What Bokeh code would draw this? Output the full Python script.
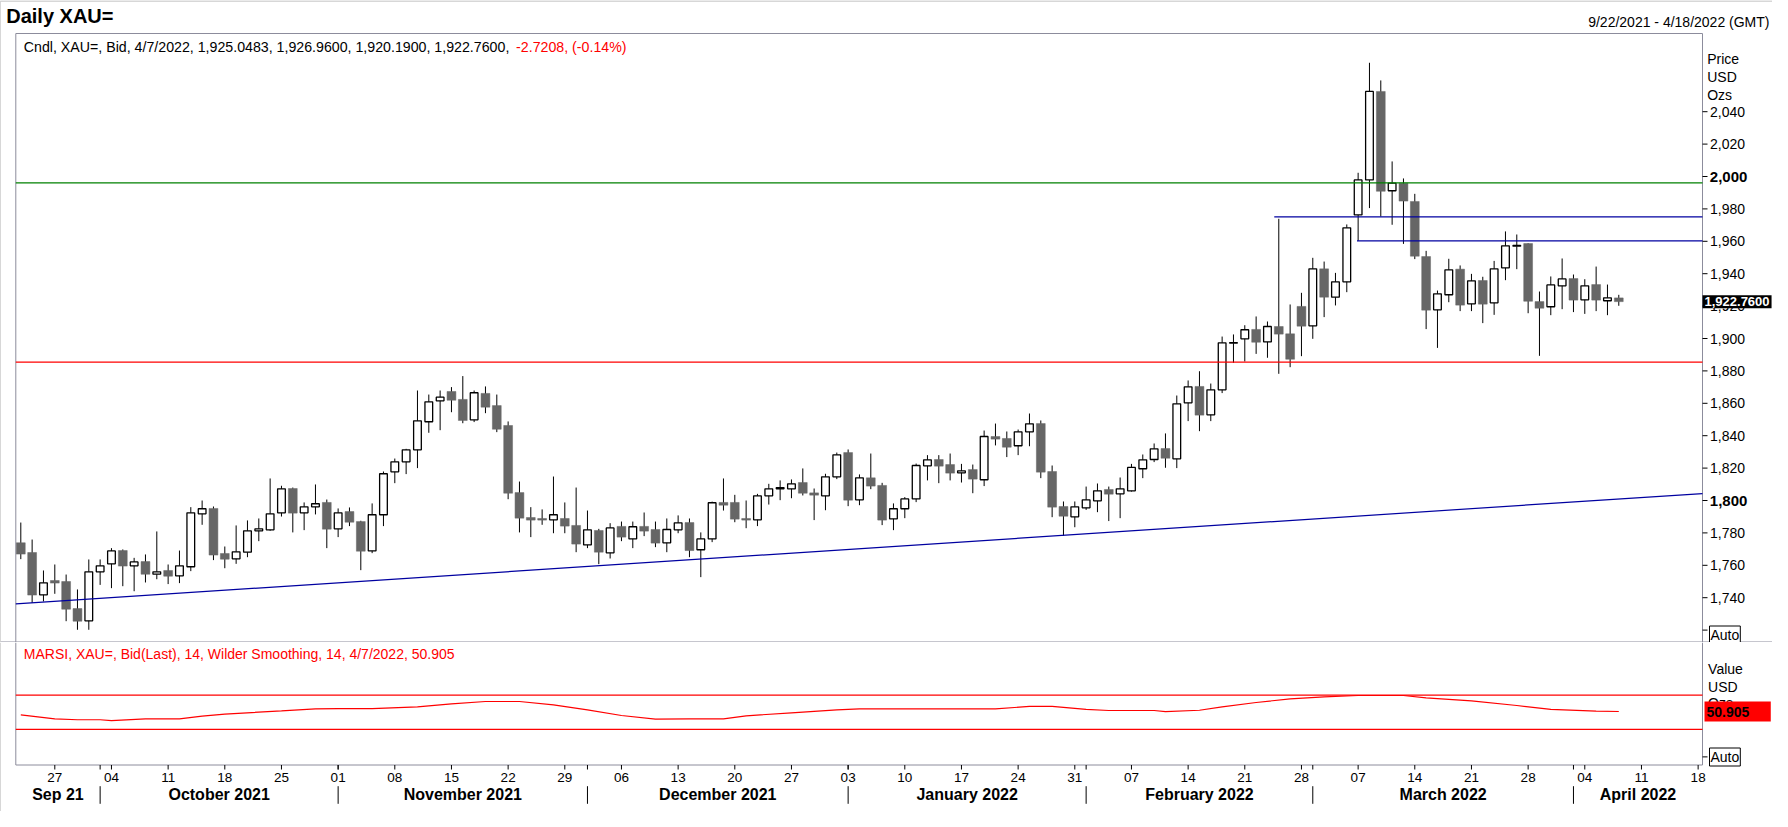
import pandas as pd
from bokeh.plotting import figure
from bokeh.layouts import column
from bokeh.models import Range1d, Label, ColumnDataSource
from bokeh.embed import file_html
from bokeh.resources import INLINE

# ---------------- data ----------------
dates = pd.bdate_range("2021-09-22", "2022-04-07")          # 142 trading days
axis_dates = pd.bdate_range("2021-09-22", "2022-04-18")

opens = [1773.9, 1767.9, 1741.8, 1750.6, 1750.0, 1733.3, 1725.7, 1756.0, 1760.9, 1769.1,
         1759.7, 1762.3, 1754.5, 1756.8, 1753.5, 1759.1, 1791.8, 1795.1, 1767.3, 1764.0,
         1768.1, 1781.3, 1781.9, 1792.4, 1807.4, 1792.4, 1796.1, 1798.8, 1782.5, 1793.2,
         1787.0, 1768.9, 1791.2, 1817.7, 1823.9, 1831.3, 1848.6, 1861.5, 1867.3, 1862.4,
         1849.8, 1866.1, 1858.6, 1846.3, 1804.9, 1789.5, 1788.9, 1788.1, 1788.9, 1784.6,
         1772.6, 1781.5, 1767.7, 1784.0, 1776.3, 1784.0, 1782.1, 1773.9, 1781.9, 1786.4,
         1769.6, 1776.3, 1798.8, 1798.8, 1788.9, 1788.1, 1802.9, 1807.2, 1807.2, 1811.1,
         1804.7, 1802.9, 1814.6, 1829.6, 1800.4, 1814.0, 1809.3, 1788.7, 1794.9, 1801.0,
         1821.4, 1825.3, 1822.2, 1817.1, 1819.1, 1812.8, 1839.5, 1838.3, 1833.8, 1842.4,
         1847.5, 1817.9, 1796.3, 1789.9, 1795.5, 1799.8, 1806.8, 1804.1, 1806.0, 1819.6,
         1825.3, 1832.1, 1825.7, 1860.3, 1870.4, 1852.9, 1868.3, 1897.1, 1899.8, 1905.6,
         1897.9, 1907.4, 1902.9, 1919.8, 1907.8, 1943.0, 1925.5, 1935.0, 1976.3, 1997.9,
         2052.5, 1991.2, 1995.9, 1984.6, 1950.6, 1917.7, 1927.0, 1942.8, 1921.4, 1935.8,
         1922.0, 1943.6, 1957.0, 1958.6, 1922.8, 1919.6, 1932.5, 1937.0, 1923.9, 1933.3,
         1923.3, 1925.05]
highs = [1786.4, 1775.9, 1756.8, 1760.5, 1754.3, 1745.1, 1763.6, 1763.6, 1770.6, 1769.8,
         1764.6, 1766.7, 1780.9, 1760.5, 1769.1, 1795.9, 1800.0, 1796.3, 1771.6, 1784.6,
         1787.7, 1788.9, 1813.6, 1809.1, 1808.0, 1798.8, 1809.9, 1800.6, 1795.1, 1795.7,
         1787.5, 1798.2, 1817.9, 1825.9, 1831.9, 1867.9, 1865.4, 1867.9, 1870.0, 1876.8,
         1867.9, 1870.4, 1865.4, 1848.8, 1811.7, 1795.9, 1794.5, 1814.8, 1798.8, 1808.0,
         1793.8, 1782.5, 1786.0, 1787.0, 1787.0, 1792.6, 1787.0, 1788.9, 1790.8, 1788.9,
         1780.3, 1799.3, 1813.6, 1803.5, 1800.0, 1804.1, 1810.3, 1812.4, 1813.0, 1819.8,
         1807.4, 1816.5, 1829.6, 1831.5, 1816.1, 1829.0, 1810.9, 1798.2, 1802.1, 1822.8,
         1828.0, 1828.0, 1829.0, 1822.6, 1822.2, 1843.2, 1847.5, 1842.6, 1843.8, 1853.7,
         1849.4, 1821.6, 1799.4, 1799.4, 1808.6, 1810.5, 1808.6, 1814.2, 1822.6, 1828.4,
         1835.2, 1841.4, 1864.8, 1874.1, 1879.8, 1872.2, 1901.2, 1902.5, 1908.2, 1913.6,
         1910.5, 1973.9, 1921.0, 1928.2, 1949.8, 1947.5, 1940.5, 1970.4, 2002.3, 2070.2,
         2059.3, 2009.3, 1998.8, 1989.3, 1954.1, 1929.6, 1949.2, 1945.1, 1939.9, 1938.1,
         1947.9, 1966.1, 1964.2, 1958.8, 1929.0, 1938.3, 1949.4, 1939.5, 1936.6, 1944.4,
         1933.3, 1926.96]
lows = [1763.8, 1736.8, 1737.7, 1742.4, 1725.5, 1720.2, 1720.2, 1747.9, 1745.9, 1747.1,
        1744.0, 1749.4, 1751.4, 1748.4, 1749.0, 1756.4, 1785.0, 1763.2, 1758.2, 1760.9,
        1765.0, 1774.9, 1781.3, 1790.1, 1780.3, 1781.7, 1791.4, 1770.6, 1777.4, 1784.2,
        1757.0, 1767.5, 1784.2, 1810.7, 1816.3, 1820.0, 1841.8, 1843.4, 1854.5, 1847.7,
        1848.4, 1853.9, 1842.2, 1800.8, 1780.3, 1777.4, 1785.0, 1779.8, 1779.8, 1768.1,
        1770.6, 1760.7, 1764.2, 1774.9, 1770.6, 1778.0, 1771.2, 1768.1, 1779.8, 1765.0,
        1752.7, 1774.3, 1793.8, 1786.6, 1782.9, 1784.2, 1797.5, 1800.2, 1801.4, 1803.1,
        1787.9, 1794.0, 1813.2, 1796.5, 1797.1, 1807.0, 1784.8, 1781.7, 1789.1, 1799.0,
        1812.4, 1810.7, 1812.4, 1811.1, 1804.5, 1808.9, 1834.0, 1826.8, 1828.0, 1833.5,
        1813.8, 1789.7, 1778.2, 1783.5, 1794.2, 1792.8, 1787.3, 1789.1, 1805.5, 1813.8,
        1823.7, 1820.2, 1820.0, 1849.0, 1842.8, 1849.0, 1866.3, 1885.0, 1885.8, 1890.5,
        1888.1, 1878.2, 1882.3, 1889.1, 1899.8, 1913.2, 1920.4, 1928.6, 1960.3, 1980.5,
        1975.3, 1970.2, 1958.4, 1949.0, 1905.8, 1894.2, 1922.4, 1916.9, 1916.9, 1909.5,
        1914.6, 1936.0, 1942.8, 1915.6, 1889.3, 1914.4, 1918.1, 1916.3, 1915.2, 1916.9,
        1914.4, 1920.19]
closes = [1766.9, 1741.6, 1749.2, 1749.0, 1732.9, 1725.5, 1756.0, 1759.7, 1768.9, 1759.5,
          1762.1, 1754.5, 1756.0, 1753.3, 1759.7, 1792.4, 1794.9, 1766.3, 1763.8, 1768.3,
          1781.3, 1782.5, 1791.8, 1807.2, 1792.2, 1796.1, 1798.0, 1782.3, 1792.4, 1786.6,
          1768.7, 1791.2, 1816.5, 1823.9, 1831.3, 1849.2, 1860.9, 1863.8, 1861.9, 1849.4,
          1866.5, 1857.6, 1844.0, 1804.5, 1789.1, 1787.9, 1787.9, 1791.2, 1784.2, 1773.1,
          1781.9, 1768.1, 1783.1, 1777.4, 1783.8, 1781.1, 1773.7, 1782.1, 1786.2, 1769.1,
          1776.3, 1798.6, 1797.1, 1788.5, 1787.9, 1802.9, 1807.2, 1808.0, 1810.3, 1804.5,
          1803.3, 1814.6, 1828.2, 1800.2, 1814.0, 1808.9, 1787.9, 1794.9, 1801.0, 1821.6,
          1825.1, 1821.2, 1816.9, 1818.3, 1813.2, 1839.5, 1837.9, 1832.9, 1842.4, 1847.3,
          1817.5, 1795.9, 1790.3, 1796.1, 1800.4, 1806.0, 1803.9, 1807.2, 1820.4, 1825.1,
          1831.9, 1826.1, 1859.7, 1870.2, 1852.7, 1868.3, 1897.3, 1897.5, 1905.4, 1897.7,
          1907.4, 1902.7, 1887.2, 1907.6, 1943.0, 1925.5, 1935.0, 1968.3, 1997.9, 2052.5,
          1990.9, 1995.9, 1984.8, 1950.8, 1917.5, 1927.6, 1942.4, 1920.6, 1935.6, 1921.2,
          1943.0, 1957.2, 1957.4, 1923.0, 1918.7, 1933.1, 1936.8, 1923.7, 1932.5, 1923.7,
          1925.1, 1922.76]

# RSI (read at selected trading-day indices)
rsi_day = [0, 3, 5, 7, 8, 11, 14, 16, 18, 23, 26, 28, 31, 35, 38, 41, 44, 47, 50, 53,
           56, 59, 62, 64, 68, 72, 74, 78, 86, 89, 91, 94, 96, 100, 101, 104, 106, 109,
           112, 115, 118, 122, 124, 128, 132, 135, 139, 141]
rsi_val = [47.1, 42.4, 41.3, 41.3, 40.4, 42.4, 42.4, 45.5, 47.8, 51.7, 54.1, 54.4, 54.4,
           56.4, 59.9, 62.6, 62.6, 58.7, 52.9, 46.3, 42.0, 42.4, 42.4, 45.9, 49.4, 52.9,
           54.1, 54.1, 54.1, 56.8, 56.8, 53.3, 52.1, 52.1, 50.9, 52.4, 56.4, 61.4, 65.7,
           68.1, 69.6, 69.6, 66.9, 63.4, 57.9, 53.3, 51.3, 50.905]
rsi_bands = [70, 30]

# drawn levels
green_level = 1996.1
red_level = 1885.4
blue_levels = [1975.1, 1960.3]
blue_start_day = [110.6, 117.9]
trend_price_left = 1736.2
trend_price_right = 1804.3

price_ticks = [1740, 1760, 1780, 1800, 1820, 1840, 1860, 1880, 1900, 1920,
               1940, 1960, 1980, 2000, 2020, 2040]
bold_ticks = [1800, 2000]
auto_tick_price = 1720
auto_tick_rsi = -2
day_labels = ["27", "04", "11", "18", "25", "01", "08", "15", "22", "29", "06", "13",
              "20", "27", "03", "10", "17", "24", "31", "07", "14", "21", "28", "07",
              "14", "21", "28", "04", "11", "18"]
month_names = ["Sep 21", "October 2021", "November 2021", "December 2021",
               "January 2022", "February 2022", "March 2022", "April 2022"]

# ---------------- layout geometry (pixels) ----------------
W, H = 1772, 811
PRICE_H = 642                       # price canvas height
PX_PER_DAY = 11.3333
DAY0_PX = 20.3                      # pixel x of first trading day
PRICE_PX = 1.62                     # pixels per USD
PRICE_REF_PX, PRICE_REF = 500.0, 1800.0
RSI_PX = 0.8575                     # pixels per RSI point
RSI_REF_PX, RSI_REF = 711.8, 50.0
FRAME_L, FRAME_R, FRAME_T, FRAME_B = 15.3, 1702.0, 33.0, 764.5

def ix(px):                         # pixel x -> day index
    return (px - DAY0_PX) / PX_PER_DAY

def py(px):                         # pixel y -> price
    return PRICE_REF + (PRICE_REF_PX - px) / PRICE_PX

def ry(px):                         # pixel y -> RSI value
    return RSI_REF + (RSI_REF_PX - px) / RSI_PX

X0, X1 = ix(FRAME_L), ix(FRAME_R)
XA, XB = ix(0), ix(W)
TICK = 5 / PX_PER_DAY

x = list(range(len(dates)))
monday_idx = [i for i, d in enumerate(axis_dates) if d.weekday() == 0]
month_start_idx = [i for i in range(1, len(axis_dates))
                   if axis_dates[i].month != axis_dates[i - 1].month]
edges = [X0] + month_start_idx + [X1]
month_centers = [(edges[k] + edges[k + 1]) / 2 for k in range(len(edges) - 1)]

FONT = "Liberation Sans"
FRAME = "#8c8c9c"
BLUE = "#0000a0"
GREY = "#666666"
x_rng = Range1d(XA, XB)

def lab(fig, text, xv, yv, xo=0, size="14px", style="normal", color="black",
        align="left", bg=None, border=None, padding=0):
    kw = {}
    if bg is not None:
        kw["background_fill_color"] = bg
    if border is not None:
        kw["border_line_color"] = border
        kw["border_line_width"] = 1
    fig.add_layout(Label(x=xv, y=yv, x_offset=xo, text=text,
                         text_font=FONT, text_font_size=size, text_font_style=style,
                         text_color=color, text_align=align, text_baseline="middle",
                         padding=padding, **kw))

def bare(fig):
    fig.grid.visible = False
    fig.outline_line_color = None
    fig.background_fill_color = "white"
    fig.border_fill_color = "white"
    fig.min_border = 0

# ---------------- price panel ----------------
p = figure(width=W, height=PRICE_H, x_range=x_rng, y_range=Range1d(py(PRICE_H), py(0)),
           output_backend="svg", toolbar_location=None,
           x_axis_location=None, y_axis_location=None)
bare(p)

# frame / axis lines
p.segment(x0=[XA, XA, X0, X0, X1, XA], y0=[py(0.5), py(0), py(FRAME_T), py(FRAME_T), py(FRAME_T), py(641.5)],
          x1=[XB, XA, X1, X0, X1, XB], y1=[py(0.5), py(PRICE_H), py(FRAME_T), py(PRICE_H), py(PRICE_H), py(641.5)],
          line_color=["#b0b0b0", "#b0b0b0", FRAME, FRAME, FRAME, FRAME], line_width=1)
all_ticks = [auto_tick_price] + price_ticks
p.segment(x0=[X1] * len(all_ticks), y0=all_ticks, x1=[X1 + TICK] * len(all_ticks),
          y1=all_ticks, line_color="black", line_width=1)

# candles
up = [i for i in x if closes[i] >= opens[i]]
dn = [i for i in x if closes[i] < opens[i]]
wick = ColumnDataSource(dict(x=x, h=highs, l=lows))
p.segment(x0="x", y0="h", x1="x", y1="l", source=wick, line_color="black", line_width=1)
up_src = ColumnDataSource(dict(x=up, top=[closes[i] for i in up], bottom=[opens[i] for i in up]))
dn_src = ColumnDataSource(dict(x=dn, top=[opens[i] for i in dn], bottom=[closes[i] for i in dn]))
p.vbar(x="x", width=0.78, top="top", bottom="bottom", source=dn_src,
       fill_color=GREY, line_color=GREY, line_width=0.5)
p.vbar(x="x", width=0.68, top="top", bottom="bottom", source=up_src,
       fill_color="white", line_color="black", line_width=1.3)

# levels and trend line
p.segment(x0=[X0, X0], y0=[green_level, red_level], x1=[X1, X1], y1=[green_level, red_level],
          line_color=["#008000", "#ff0000"], line_width=1.2)
p.segment(x0=blue_start_day, y0=blue_levels, x1=[X1] * len(blue_levels), y1=blue_levels,
          line_color=BLUE, line_width=1.2)
p.line([X0, X1], [trend_price_left, trend_price_right], line_color=BLUE, line_width=1.2)

# price axis labels
for t in price_ticks:
    if t in bold_ticks:
        lab(p, f"{t:,}", X1, t, xo=7.3, size="15px", style="bold")
    else:
        lab(p, f"{t:,}", X1, t, xo=7.5)
for txt, ypx in zip(["Price", "USD", "Ozs"], [58.3, 76.3, 94.3]):
    lab(p, txt, X1, py(ypx), xo=4.7)
lab(p, f"{closes[-1]:,.4f}", X1, closes[-1], xo=0, size="13px", style="bold",
    color="white", bg="black", padding=2)
lab(p, "Auto", X1, py(634.5), xo=7, bg="white", border="black", padding=1)

# header + info line
lab(p, "Daily XAU=", XA, py(15), xo=5.7, size="20px", style="bold")
lab(p, "9/22/2021 - 4/18/2022 (GMT)", XB, py(21.5), xo=-3, align="right")
lab(p, "Cndl, XAU=, Bid, 4/7/2022, 1,925.0483, 1,926.9600, 1,920.1900, 1,922.7600,",
    X0, py(46), xo=8, size="14.2px")
lab(p, "-2.7208, (-0.14%)", X0, py(46), xo=500.3, size="14.2px", color="#ff0000")

# ---------------- RSI panel ----------------
RH = H - PRICE_H
r = figure(width=W, height=RH, x_range=x_rng, y_range=Range1d(ry(H), ry(PRICE_H)),
           output_backend="svg", toolbar_location=None,
           x_axis_location=None, y_axis_location=None)
bare(r)

r.segment(x0=[XA, X0, X1, X0], y0=[ry(PRICE_H), ry(PRICE_H), ry(PRICE_H), ry(FRAME_B)],
          x1=[XA, X0, X1, X1], y1=[ry(H), ry(FRAME_B), ry(FRAME_B), ry(FRAME_B)],
          line_color=["#b0b0b0", FRAME, FRAME, FRAME], line_width=1)
r.segment(x0=[X0] * 2, y0=rsi_bands, x1=[X1] * 2, y1=rsi_bands, line_color="#ff0000", line_width=1.2)
r.line(rsi_day, rsi_val, line_color="#ff0000", line_width=1.2)
r.segment(x0=[X1], y0=[auto_tick_rsi], x1=[X1 + TICK], y1=[auto_tick_rsi], line_color="black")

# date axis: day ticks, month-start ticks, separators
tick_x = monday_idx + month_start_idx
r.segment(x0=tick_x, y0=[ry(FRAME_B)] * len(tick_x), x1=tick_x, y1=[ry(769)] * len(tick_x),
          line_color="black", line_width=1)
r.segment(x0=month_start_idx, y0=[ry(785.7)] * len(month_start_idx),
          x1=month_start_idx, y1=[ry(803.3)] * len(month_start_idx),
          line_color="black", line_width=1)
for i, s in zip(monday_idx, day_labels):
    lab(r, s, i, ry(776.5), size="13.5px", align="center")
for c, n in zip(month_centers, month_names):
    lab(r, n, c, ry(793.5), size="16px", style="bold", align="center")

lab(r, "MARSI, XAU=, Bid(Last),  14, Wilder Smoothing, 14, 4/7/2022, 50.905",
    X0, ry(653.3), xo=8, color="#ff0000")
for txt, ypx in zip(["Value", "USD", "Ozs"], [668, 686, 702]):
    lab(r, txt, X1, ry(ypx), xo=5.6)
lab(r, f"{rsi_val[-1]:.3f}" + "\u00a0" * 5, X1, rsi_val[-1], xo=2, style="bold",
    bg="#ff0000", padding=2)
lab(r, "Auto", X1, ry(756.5), xo=7, bg="white", border="black", padding=1)

layout = column(p, r, spacing=0)
open("out.html", "w").write(file_html(layout, INLINE))
